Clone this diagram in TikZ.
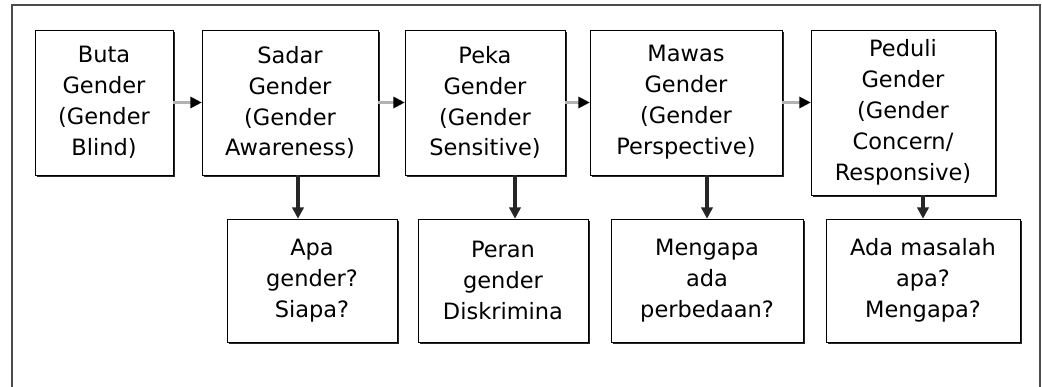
\documentclass[tikz,border=0pt]{standalone}
\usepackage{fontspec}
\setmainfont{DejaVu Sans}
\usetikzlibrary{arrows.meta,calc,shadows}

\begin{document}
\begin{tikzpicture}[x=0.025cm, y=-0.025cm,
  levelbox/.style={draw, fill=white, align=center, inner sep=2pt, minimum height=3.625cm, font=\fontsize{16}{22}\selectfont, drop shadow={shadow xshift=1.3pt, shadow yshift=-1.3pt, fill=black!85, opacity=1}},
  askbox/.style={draw, fill=white, align=center, inner sep=2pt, minimum height=3.075cm, font=\fontsize{16}{22}\selectfont, drop shadow={shadow xshift=1.3pt, shadow yshift=-1.3pt, fill=black!85, opacity=1}},
  nextarrow/.style={-{Triangle[black, length=8pt, width=8pt]}, draw=gray!60, line width=1.5pt},
  downarrow/.style={-{Triangle[length=8pt, width=8pt]}, draw=black!85, line width=2.2pt}
]
\useasboundingbox (0,0) rectangle (1042,387);

% frame
\draw[black!70, line width=0.8pt] (12,395) -- (12,5) -- (1040,5) -- (1040,395);

\node[levelbox, minimum width=3.45cm] (buta) at (104,102.5) {Buta\\Gender\\(Gender\\Blind)};
\node[levelbox, minimum width=4.4cm] (sadar) at (290,102.5) {Sadar\\Gender\\(Gender\\Awareness)};
\node[levelbox, minimum width=4.0cm] (peka) at (485,102.5) {Peka\\Gender\\(Gender\\Sensitive)};
\node[levelbox, minimum width=4.8cm] (mawas) at (686,102.5) {Mawas\\Gender\\(Gender\\Perspective)};
\node[levelbox, minimum width=4.6cm, minimum height=4.125cm] (peduli) at (903,112.5) {Peduli\\Gender\\(Gender\\Concern/\\Responsive)};

\node[askbox, minimum width=4.25cm] (apa) at (312,280.5) {Apa\\gender?\\Siapa?};
\node[askbox, minimum width=4.25cm] (peran) at (503,280.5) {Peran\\gender\\Diskrimina};
\node[askbox, minimum width=4.8cm] (mengapa) at (707,280.5) {Mengapa\\ada\\perbedaan?};
\node[askbox, minimum width=4.85cm] (masalah) at (923,280.5) {Ada masalah\\apa?\\Mengapa?};

\draw[nextarrow] (buta) -- (sadar);
\draw[nextarrow] (sadar) -- (peka);
\draw[nextarrow] (peka) -- (mawas);
\draw[nextarrow] (mawas.east) -- (mawas.east -| peduli.west);

\draw[downarrow] ([xshift=-0.35cm]apa.north |- sadar.south) -- ([xshift=-0.35cm]apa.north);
\draw[downarrow] ([xshift=0.3cm]peran.north |- peka.south) -- ([xshift=0.3cm]peran.north);
\draw[downarrow] (mengapa.north |- mawas.south) -- (mengapa.north);
\draw[downarrow] (masalah.north |- peduli.south) -- (masalah.north);
\end{tikzpicture}
\end{document}
